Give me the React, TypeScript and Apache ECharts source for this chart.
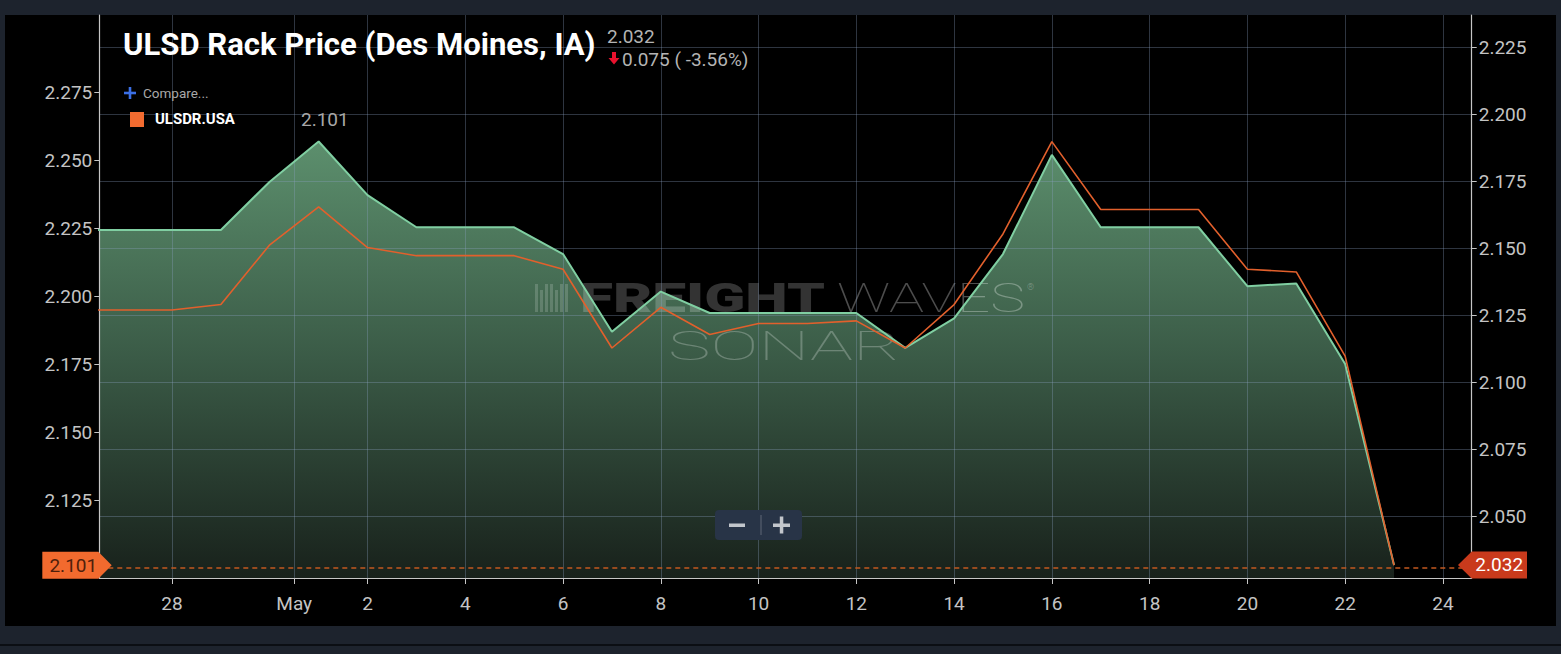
import React, { useEffect, useRef } from 'react';
import * as echarts from 'echarts';

// day offsets relative to Apr 28 (0 = Apr 28, 3 = May 1, 25 = May 23)
const dayOffsets = [-2, -1, 0, 1, 2, 3, 4, 5, 6, 7, 8, 9, 10, 11, 12, 13, 14, 15, 16, 17, 18, 19, 20, 21, 22, 23, 24, 25];
// ULSD Rack Price (Des Moines, IA) - right axis
const ulsdRackPrice = [2.157, 2.157, 2.157, 2.157, 2.175, 2.190, 2.170, 2.158, 2.158, 2.158, 2.148, 2.119, 2.134, 2.126, 2.126, 2.126, 2.126, 2.113, 2.124, 2.148, 2.185, 2.158, 2.158, 2.158, 2.136, 2.137, 2.107, 2.032];
// ULSDR.USA compare series - left axis
const ulsdrUsa = [2.195, 2.195, 2.195, 2.197, 2.219, 2.233, 2.218, 2.215, 2.215, 2.215, 2.210, 2.181, 2.196, 2.186, 2.190, 2.190, 2.191, 2.181, 2.197, 2.223, 2.257, 2.232, 2.232, 2.232, 2.210, 2.209, 2.178, 2.101];

const xTickDays = [0, 2.5, 4, 6, 8, 10, 12, 14, 16, 18, 20, 22, 24, 26];
const xTickLabels = ['28', 'May', '2', '4', '6', '8', '10', '12', '14', '16', '18', '20', '22', '24'];
const rightTicks = [2.05, 2.075, 2.1, 2.125, 2.15, 2.175, 2.2, 2.225];
const leftTicks = [2.125, 2.15, 2.175, 2.2, 2.225, 2.25, 2.275];
const xRange = [-1.487, 26.589];
const rightRange = [2.02713, 2.2372];
const leftRange = [2.09632, 2.30361];

const TITLE = 'ULSD Rack Price (Des Moines, IA)';
const COMPARE_TEXT = 'Compare...';
const LEGEND_NAME = 'ULSDR.USA';

const FF = 'Roboto, "Noto Sans", sans-serif';

function measure(text: string, font: string): number {
  const c = document.createElement('canvas').getContext('2d');
  if (!c) return 1;
  c.font = font;
  return c.measureText(text).width || 1;
}

function fitText(text: string, x: number, y: number, size: number, weight: any, fill: string, target: number, z: number) {
  const w = measure(text, `${weight} ${size}px ${FF}`);
  return {
    type: 'text', x, y, z, silent: true, scaleX: target / w, originX: 0, originY: 0,
    style: { text, fill, fontSize: size, fontWeight: weight, fontFamily: FF, align: 'left', verticalAlign: 'middle' },
  };
}

function plainText(text: string, x: number, y: number, size: number, weight: any, fill: string, z: number, align = 'left') {
  return {
    type: 'text', x, y, z, silent: true,
    style: { text, fill, fontSize: size, fontWeight: weight, fontFamily: FF, align, verticalAlign: 'middle' },
  };
}

export default function App() {
  const ref = useRef<HTMLDivElement>(null);

  useEffect(() => {
    const el = ref.current;
    if (!el) return;
    const chart = echarts.init(el, null, { renderer: 'svg' });

    const green = dayOffsets.map((d, i) => [d, ulsdRackPrice[i]]);
    const orange = dayOffsets.map((d, i) => [d, ulsdrUsa[i]]);
    const lastGreen = ulsdRackPrice[ulsdRackPrice.length - 1];
    const prevGreen = ulsdRackPrice[ulsdRackPrice.length - 2];
    const lastOrange = ulsdrUsa[ulsdrUsa.length - 1];
    const chg = prevGreen - lastGreen;
    const pct = (-chg / prevGreen) * 100;

    const gridLineColor = 'rgba(140,160,195,0.33)';
    const axisColor = '#c6c6c6';
    const labelColor = '#c4c4c4';

    const option: any = {
      animation: false,
      backgroundColor: '#1d232d',
      grid: { left: 99.3, right: 89.3, top: 15, bottom: 76, containLabel: false, outerBoundsMode: 'none' },
      xAxis: {
        type: 'value', min: xRange[0], max: xRange[1], z: 3,
        axisLine: { show: true, onZero: false, lineStyle: { color: axisColor, width: 1.2 } },
        axisTick: { show: true, length: 6, customValues: xTickDays, lineStyle: { color: axisColor } },
        axisLabel: {
          customValues: xTickDays, margin: 16, color: labelColor, fontSize: 19, fontFamily: FF,
          formatter: (v: number) => {
            const i = xTickDays.findIndex((t) => Math.abs(t - v) < 1e-6);
            return i >= 0 ? xTickLabels[i] : '';
          },
        },
        splitLine: { show: true, lineStyle: { color: gridLineColor, width: 1 } },
      },
      yAxis: [
        {
          type: 'value', position: 'right', min: rightRange[0], max: rightRange[1], z: 3,
          axisLine: { show: true, onZero: false, lineStyle: { color: axisColor, width: 1.2 } },
          axisTick: { show: true, length: 5, customValues: rightTicks, lineStyle: { color: axisColor } },
          axisLabel: { customValues: rightTicks, margin: 7, color: labelColor, fontSize: 19, fontFamily: FF, formatter: (v: number) => v.toFixed(3) },
          splitLine: { show: true, lineStyle: { color: gridLineColor, width: 1 } },
        },
        {
          type: 'value', position: 'left', min: leftRange[0], max: leftRange[1], z: 3,
          axisLine: { show: true, onZero: false, lineStyle: { color: axisColor, width: 1.2 } },
          axisTick: { show: true, length: 5, customValues: leftTicks, lineStyle: { color: axisColor } },
          axisLabel: { customValues: leftTicks, margin: 7, color: labelColor, fontSize: 19, fontFamily: FF, formatter: (v: number) => v.toFixed(3) },
          splitLine: { show: false },
        },
      ],
      series: [
        {
          name: 'area', type: 'line', yAxisIndex: 0, data: green, symbol: 'none', silent: true, z: 1,
          lineStyle: { opacity: 0, width: 0 },
          areaStyle: {
            opacity: 1,
            color: new echarts.graphic.LinearGradient(0, 0, 0, 1, [
              { offset: 0, color: '#5c8f6d' },
              { offset: 0.5, color: '#3a5a46' },
              { offset: 1, color: '#18211b' },
            ]),
          },
        },
        {
          name: TITLE, type: 'line', yAxisIndex: 0, data: green, symbol: 'none', silent: true, z: 4,
          lineStyle: { color: '#80cfa2', width: 2 },
        },
        {
          name: LEGEND_NAME, type: 'line', yAxisIndex: 1, data: orange, symbol: 'none', silent: true, z: 5,
          lineStyle: { color: '#e2602c', width: 1.6 },
          markLine: {
            silent: true, symbol: 'none', label: { show: false },
            lineStyle: { color: '#c2581f', type: [5, 4], width: 1.5 },
            data: [{ yAxis: lastOrange }],
          },
        },
      ],
    };
    chart.setOption(option);

    const yL = chart.convertToPixel({ yAxisIndex: 1 } as any, lastOrange) as number;
    const yR = chart.convertToPixel({ yAxisIndex: 0 } as any, lastGreen) as number;
    const xL = chart.convertToPixel({ xAxisIndex: 0 } as any, xRange[0]) as number;
    const xR = chart.convertToPixel({ xAxisIndex: 0 } as any, xRange[1]) as number;

    const g: any[] = [];
    // frame panel
    g.push({ type: 'rect', z: -10, silent: true, shape: { x: 5, y: 15, width: 1551, height: 611 }, style: { fill: '#000000' } });
    g.push({ type: 'rect', z: -10, silent: true, shape: { x: 0, y: 644, width: 1561, height: 2 }, style: { fill: '#0b0e13' } });

    // watermark
    for (let i = 0; i < 7; i++) {
      g.push({ type: 'rect', z: 1.5, silent: true, shape: { x: 535 + i * 5, y: 284 + (i % 3 === 1 ? 6 : 0), width: 3, height: 28 - (i % 3 === 1 ? 6 : 0) }, style: { fill: 'rgba(255,255,255,0.17)' } });
    }
    g.push(fitText('FREIGHT', 580, 298, 40, 900, 'rgba(255,255,255,0.2)', 245, 1.5));
    g.push(fitText('WAVES', 837, 298, 40, 100, 'rgba(255,255,255,0.3)', 188, 1.5));
    g.push(plainText('®', 1027, 287, 9, 300, 'rgba(255,255,255,0.3)', 1.5));
    g.push(fitText('SONAR', 668, 346, 41, 100, 'rgba(255,255,255,0.25)', 232, 1.5));

    // title block
    g.push(fitText(TITLE, 123, 44, 32, 'bold', '#ffffff', 473, 10));
    g.push(plainText(lastGreen.toFixed(3), 607, 36, 19, 'normal', '#b4b4b4', 10));
    g.push({
      type: 'polygon', z: 10, silent: true,
      shape: { points: [[612, 52], [616, 52], [616, 58], [619.5, 58], [614, 64.5], [608.5, 58], [612, 58]] },
      style: { fill: '#e8122e' },
    });
    g.push(plainText(`${chg.toFixed(3)} ( ${pct.toFixed(2)}%)`, 622, 59, 19, 'normal', '#b4b4b4', 10));

    // compare + legend
    g.push({ type: 'rect', z: 10, silent: true, shape: { x: 124, y: 91.7, width: 12, height: 2.6 }, style: { fill: '#3b6fe6' } });
    g.push({ type: 'rect', z: 10, silent: true, shape: { x: 128.7, y: 87, width: 2.6, height: 12 }, style: { fill: '#3b6fe6' } });
    g.push(plainText(COMPARE_TEXT, 143, 93, 13.5, 'normal', '#a8a8a8', 10));
    g.push({ type: 'rect', z: 10, silent: true, shape: { x: 130, y: 112, width: 14, height: 15 }, style: { fill: '#f26b30' } });
    g.push(fitText(LEGEND_NAME, 155, 118.5, 15, 'bold', '#ffffff', 80, 10));
    g.push(plainText(lastOrange.toFixed(3), 301, 119.5, 19, 'normal', '#a8a8a8', 10));

    // zoom control
    g.push({ type: 'rect', z: 10, silent: true, shape: { x: 715, y: 510, width: 87, height: 30, r: 4 }, style: { fill: '#283447' } });
    g.push({ type: 'rect', z: 11, silent: true, shape: { x: 729, y: 523.5, width: 16, height: 3.5 }, style: { fill: '#c2c6cc' } });
    g.push({ type: 'rect', z: 11, silent: true, shape: { x: 773, y: 523.5, width: 17, height: 3.5 }, style: { fill: '#c2c6cc' } });
    g.push({ type: 'rect', z: 11, silent: true, shape: { x: 779.8, y: 516.5, width: 3.5, height: 17 }, style: { fill: '#c2c6cc' } });
    g.push({ type: 'line', z: 11, silent: true, shape: { x1: 761, y1: 515, x2: 761, y2: 535 }, style: { stroke: 'rgba(160,165,175,0.45)', lineWidth: 1 } });

    // last value tags
    g.push({
      type: 'polygon', z: 20, silent: true,
      shape: { points: [[xL - 57, yL - 13.5], [xL - 1, yL - 13.5], [xL + 12.4, yL], [xL - 1, yL + 13.5], [xL - 57, yL + 13.5]] },
      style: { fill: '#f26a2e' },
    });
    g.push(plainText(lastOrange.toFixed(3), xL - 26, yL, 19, 'normal', '#4f200b', 21, 'center'));
    g.push({
      type: 'polygon', z: 20, silent: true,
      shape: { points: [[xR - 13.7, yR], [xR, yR - 13.5], [xR + 55.3, yR - 13.5], [xR + 55.3, yR + 13.5], [xR, yR + 13.5]] },
      style: { fill: '#c93a1c' },
    });
    g.push(plainText(lastGreen.toFixed(3), xR + 27.5, yR, 19, 'normal', '#ffffff', 21, 'center'));

    chart.setOption({ graphic: g });

    return () => chart.dispose();
  }, []);

  return <div ref={ref} style={{ position: 'fixed', left: 0, top: 0, width: 1561, height: 654 }} />;
}
